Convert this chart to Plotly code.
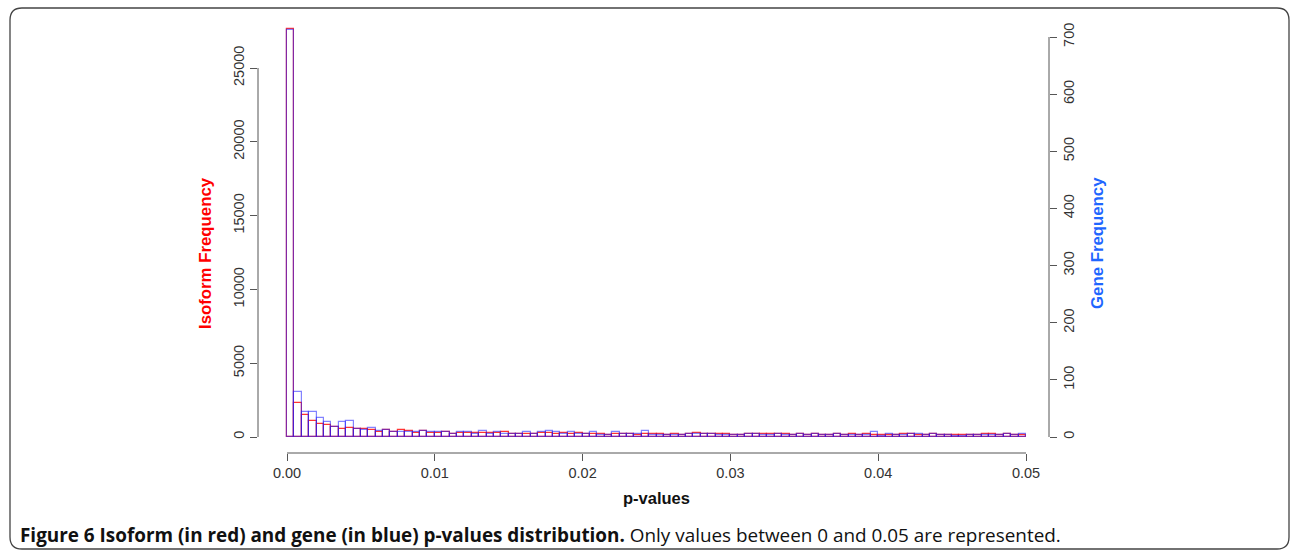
import plotly.graph_objects as go

# ---------------- data ----------------
bin_width = 0.0005
bin_starts = [round(i * bin_width, 6) for i in range(100)]

isoform_counts = [
    27660, 2330, 1490, 1110, 900, 790, 700, 570, 610, 520,
    520, 470, 340, 470, 320, 450, 390, 300, 430, 270,
    300, 320, 200, 300, 290, 270, 250, 270, 290, 320,
    200, 180, 190, 230, 240, 250, 230, 250, 200, 250,
    220, 190, 180, 160, 200, 230, 170, 160, 200, 180,
    180, 150, 180, 160, 200, 240, 190, 220, 180, 170,
    160, 150, 170, 190, 220, 200, 170, 180, 150, 220,
    150, 200, 160, 130, 170, 130, 210, 160, 210, 150,
    120, 160, 130, 200, 190, 160, 140, 170, 130, 160,
    120, 120, 160, 140, 170, 170, 140, 170, 150, 160,
]

gene_counts = [
    712, 79, 43, 43, 34, 26, 18, 27, 28, 14,
    12, 15, 10, 12, 9, 9, 8, 9, 10, 8,
    8, 8, 5, 9, 8, 6, 10, 5, 8, 6,
    5, 5, 8, 5, 8, 10, 8, 5, 9, 5,
    5, 8, 4, 4, 9, 5, 6, 6, 10, 4,
    4, 3, 4, 4, 6, 5, 6, 5, 4, 4,
    4, 4, 5, 6, 4, 4, 5, 4, 3, 5,
    3, 5, 4, 3, 5, 3, 4, 3, 4, 9,
    2, 6, 3, 4, 6, 6, 3, 5, 3, 3,
    2, 2, 3, 4, 3, 3, 3, 6, 4, 5,
]

x_ticks = [0.0, 0.01, 0.02, 0.03, 0.04, 0.05]
x_ticklabels = ["0.00", "0.01", "0.02", "0.03", "0.04", "0.05"]
iso_ticks = [0, 5000, 10000, 15000, 20000, 25000]
iso_ticklabels = ["0", "5000", "10000", "15000", "20000", "25000"]
gene_ticks = [0, 100, 200, 300, 400, 500, 600, 700]
gene_ticklabels = ["0", "100", "200", "300", "400", "500", "600", "700"]

# ---------------- layout geometry (pixels) ----------------
W, H = 1290, 553
PL, PR, PT, PB = 258, 1049, 12, 453  # plot area in pixels


def px(x):
    return (x - PL) / (PR - PL)


def py(y):
    return (PB - y) / (PB - PT)


FONT = "Liberation Sans, Arial, Helvetica, sans-serif"
AX = "#555555"
TXT = "#333333"

centers = [s + bin_width / 2 for s in bin_starts]

fig = go.Figure()
fig.add_trace(go.Bar(
    x=centers, y=isoform_counts, width=bin_width, yaxis="y",
    marker=dict(color="rgba(0,0,0,0)", line=dict(color="rgba(255,0,0,0.8)", width=1.2)),
    showlegend=False, hoverinfo="skip",
))
fig.add_trace(go.Bar(
    x=centers, y=gene_counts, width=bin_width, yaxis="y2",
    marker=dict(color="rgba(0,0,0,0)", line=dict(color="rgba(30,30,255,0.55)", width=1.2)),
    showlegend=False, hoverinfo="skip",
))

# axis ranges matching pixel positions
x_per_px = 0.05 / (1026 - 287)
x_range = [0 - (287 - PL) * x_per_px, 0.05 + (PR - 1026) * x_per_px]
iso_per_px = 25000 / (437 - 68)
y_range = [-(PB - 437) * iso_per_px, (437 - PT) * iso_per_px]
gene_per_px = 700 / (437 - 37)
y2_range = [-(PB - 437) * gene_per_px, (437 - PT) * gene_per_px]

fig.update_layout(
    width=W, height=H,
    margin=dict(l=PL, r=W - PR, t=PT, b=H - PB, pad=0),
    paper_bgcolor="white", plot_bgcolor="white",
    barmode="overlay",
    bargap=0,
    font=dict(family=FONT, color=TXT, size=14),
    xaxis=dict(
        range=x_range, tickvals=x_ticks, ticktext=x_ticklabels,
        ticks="outside", ticklen=7, tickwidth=1, tickcolor=AX,
        showline=False, showgrid=False, zeroline=False,
        tickfont=dict(family=FONT, size=14.5, color=TXT),
    ),
    yaxis=dict(
        range=y_range, tickvals=iso_ticks, ticktext=iso_ticklabels, tickangle=-90,
        ticks="outside", ticklen=7, tickwidth=1, tickcolor=AX,
        showline=False, showgrid=False, zeroline=False,
        tickfont=dict(family=FONT, size=14.5, color=TXT),
    ),
    yaxis2=dict(
        range=y2_range, tickvals=gene_ticks, ticktext=gene_ticklabels, tickangle=-90,
        overlaying="y", side="right",
        ticks="outside", ticklen=7, tickwidth=1, tickcolor=AX,
        showline=False, showgrid=False, zeroline=False,
        tickfont=dict(family=FONT, size=14.5, color=TXT),
    ),
)

# R-style axis lines spanning first to last tick
shapes = [
    dict(type="line", xref="x", yref="paper", x0=x_ticks[0], x1=x_ticks[-1], y0=0, y1=0,
         line=dict(color=AX, width=1)),
    dict(type="line", xref="paper", yref="y", x0=0, x1=0, y0=iso_ticks[0], y1=iso_ticks[-1],
         line=dict(color=AX, width=1)),
    dict(type="line", xref="paper", yref="y2", x0=1, x1=1, y0=gene_ticks[0], y1=gene_ticks[-1],
         line=dict(color=AX, width=1)),
]

# rounded frame around the figure
L, T, R, B, r = 10, 8, 1289, 549, 12
rx = r / (PR - PL)
ry = r / (PB - PT)
path = (
    f"M {px(L)+rx},{py(T)} L {px(R)-rx},{py(T)} Q {px(R)},{py(T)} {px(R)},{py(T)-ry} "
    f"L {px(R)},{py(B)+ry} Q {px(R)},{py(B)} {px(R)-rx},{py(B)} "
    f"L {px(L)+rx},{py(B)} Q {px(L)},{py(B)} {px(L)},{py(B)+ry} "
    f"L {px(L)},{py(T)-ry} Q {px(L)},{py(T)} {px(L)+rx},{py(T)} Z"
)
shapes.append(dict(type="path", xref="paper", yref="paper", path=path,
                   line=dict(color="#444444", width=1.3), layer="below"))
fig.update_layout(shapes=shapes)

annotations = [
    dict(text="<b>Isoform Frequency</b>", x=px(205), y=py(253), xref="paper", yref="paper",
         textangle=-90, showarrow=False, xanchor="center", yanchor="middle",
         font=dict(family=FONT, size=16.8, color="#FF0000")),
    dict(text="<b>Gene Frequency</b>", x=px(1097), y=py(243), xref="paper", yref="paper",
         textangle=-90, showarrow=False, xanchor="center", yanchor="middle",
         font=dict(family=FONT, size=16.8, color="#1F66FF")),
    dict(text="<b>p-values</b>", x=px(656), y=py(498), xref="paper", yref="paper",
         showarrow=False, xanchor="center", yanchor="middle",
         font=dict(family=FONT, size=16.5, color="#111111")),
    dict(text="<b>Figure 6 Isoform (in red) and gene (in blue) p-values distribution.</b> "
              "Only values between 0 and 0.05 are represented.",
         x=px(18), y=py(535), xref="paper", yref="paper",
         showarrow=False, xanchor="left", yanchor="middle",
         font=dict(family="Open Sans, sans-serif", size=18.9, color="#111111")),
]
fig.update_layout(annotations=annotations)

fig.write_html(
    "out.html",
    config={"displayModeBar": False},
    post_script="document.body.style.margin='0';document.body.style.overflow='hidden';",
)
